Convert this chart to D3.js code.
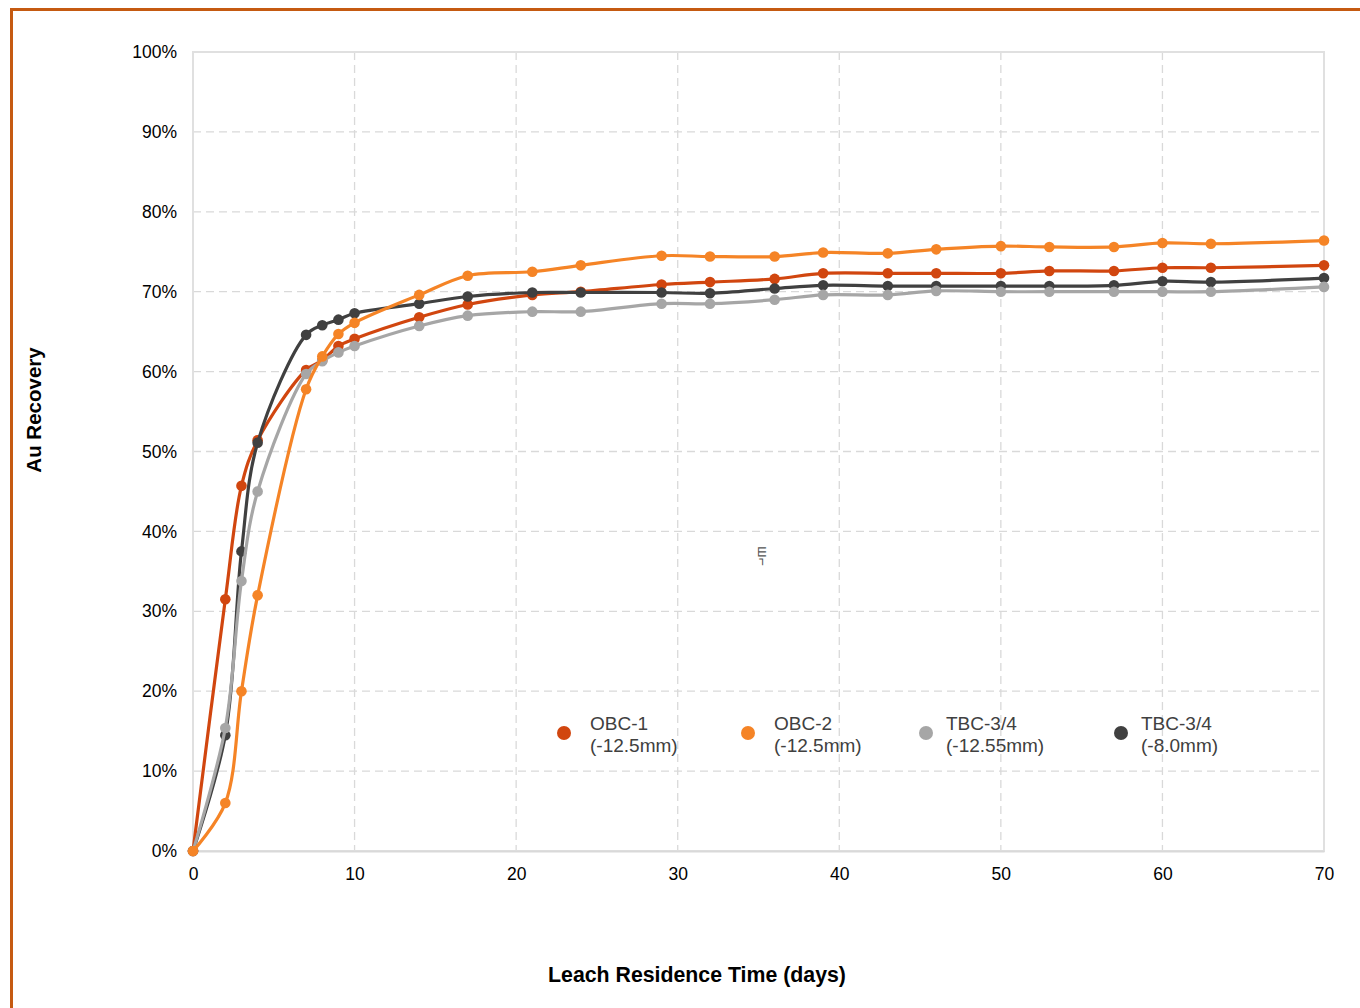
<!DOCTYPE html>
<html>
<head>
<meta charset="utf-8">
<script src="https://cdn.jsdelivr.net/npm/d3@7"></script>
<style>
  body { margin: 0; background: #fff; }
  svg { display: block; font-family: "Liberation Sans", Arial, sans-serif; }
</style>
</head>
<body>
<div id="plot"></div>
<script>
// Data
var days = [0, 2, 3, 4, 7, 8, 9, 10, 14, 17, 21, 24, 29, 32, 36, 39, 43, 46, 50, 53, 57, 60, 63, 70];
var obc1 = [0, 31.5, 45.7, 51.4, 60.2, 61.4, 63.2, 64.1, 66.8, 68.4, 69.6, 70.0, 70.9, 71.2, 71.6, 72.3, 72.3, 72.3, 72.3, 72.6, 72.6, 73.0, 73.0, 73.3];
var obc2 = [0, 6.0, 20.0, 32.0, 57.8, 61.9, 64.7, 66.1, 69.6, 72.0, 72.5, 73.3, 74.5, 74.4, 74.4, 74.9, 74.8, 75.3, 75.7, 75.6, 75.6, 76.1, 76.0, 76.4];
var tbc1255 = [0, 15.4, 33.8, 45.0, 59.7, 61.3, 62.4, 63.2, 65.7, 67.0, 67.5, 67.5, 68.5, 68.5, 69.0, 69.6, 69.6, 70.1, 70.0, 70.0, 70.0, 70.0, 70.0, 70.6];
var tbc80 = [0, 14.5, 37.5, 51.1, 64.6, 65.8, 66.5, 67.3, 68.5, 69.4, 69.9, 69.9, 69.9, 69.8, 70.4, 70.8, 70.7, 70.7, 70.7, 70.7, 70.8, 71.3, 71.2, 71.7];

var xTicks = [0, 10, 20, 30, 40, 50, 60, 70];
var yTicks = [0, 10, 20, 30, 40, 50, 60, 70, 80, 90, 100];

var series = [
  { name: ["OBC-1", "(-12.5mm)"], values: obc1, color: "#D1460F" },
  { name: ["OBC-2", "(-12.5mm)"], values: obc2, color: "#F58426" },
  { name: ["TBC-3/4", "(-12.55mm)"], values: tbc1255, color: "#A6A6A6" },
  { name: ["TBC-3/4", "(-8.0mm)"], values: tbc80, color: "#404040" }
];
// draw order (last on top)
var drawOrder = [0, 3, 2, 1];

var W = 1360, H = 1008;
var margin = { left: 193, right: 36, top: 52, bottom: 157 };
var width = W - margin.left - margin.right,
    height = H - margin.top - margin.bottom;

var svg = d3.select("div#plot")
    .append("svg")
    .attr("width", W)
    .attr("height", H);

// outer frame
svg.append("rect")
    .attr("x", 11.5).attr("y", 9.5)
    .attr("width", 1400).attr("height", 1100)
    .attr("fill", "none")
    .attr("stroke", "#C55A11")
    .attr("stroke-width", 3);

var g = svg.append("g")
    .attr("transform", "translate(" + margin.left + "," + margin.top + ")");

var x = d3.scaleLinear().domain([0, 70]).range([0, width]);
var y = d3.scaleLinear().domain([0, 100]).range([height, 0]);

// gridlines
g.selectAll(".hgrid")
    .data(yTicks.slice(1, -1))
    .enter().append("line")
    .attr("x1", 0).attr("x2", width)
    .attr("y1", function (d) { return y(d); })
    .attr("y2", function (d) { return y(d); })
    .attr("stroke", "#D9D9D9")
    .attr("stroke-width", 1.3)
    .attr("stroke-dasharray", "8,5");

g.selectAll(".vgrid")
    .data(xTicks.slice(1, -1))
    .enter().append("line")
    .attr("y1", 0).attr("y2", height)
    .attr("x1", function (d) { return x(d); })
    .attr("x2", function (d) { return x(d); })
    .attr("stroke", "#D9D9D9")
    .attr("stroke-width", 1.3)
    .attr("stroke-dasharray", "8,5");

// plot border
g.append("rect")
    .attr("x", 0).attr("y", 0)
    .attr("width", width).attr("height", height)
    .attr("fill", "none")
    .attr("stroke", "#E0E0E0")
    .attr("stroke-width", 2);

// axes
var xAxis = d3.axisBottom(x).tickValues(xTicks).tickSize(0).tickPadding(17);
var yAxis = d3.axisLeft(y).tickValues(yTicks).tickSize(0).tickPadding(16)
    .tickFormat(function (d) { return d + "%"; });

var gx = g.append("g")
    .attr("transform", "translate(0," + height + ")")
    .call(xAxis);
gx.select(".domain").attr("stroke", "#D9D9D9").attr("stroke-width", 2);
gx.selectAll("text").attr("font-size", 17.5).attr("fill", "#000")
    .attr("font-family", "Liberation Sans, Arial, sans-serif");

var gy = g.append("g").call(yAxis);
gy.select(".domain").remove();
gy.selectAll("text").attr("font-size", 17.5).attr("fill", "#000")
    .attr("font-family", "Liberation Sans, Arial, sans-serif");

// lines
var line = d3.line()
    .x(function (d) { return x(d[0]); })
    .y(function (d) { return y(d[1]); })
    .curve(d3.curveCatmullRom.alpha(0.5));

drawOrder.forEach(function (i) {
  var s = series[i];
  var pts = days.map(function (d, k) { return [d, s.values[k]]; });
  var sg = g.append("g");
  sg.append("path")
      .datum(pts)
      .attr("d", line)
      .attr("fill", "none")
      .attr("stroke", s.color)
      .attr("stroke-width", 3.2);
  sg.selectAll("circle")
      .data(pts)
      .enter().append("circle")
      .attr("cx", function (d) { return x(d[0]); })
      .attr("cy", function (d) { return y(d[1]); })
      .attr("r", 5.3)
      .attr("fill", s.color);
});

// legend
var legendX = [564, 748, 926, 1121];
var legendGap = [26, 26, 20, 20];
series.forEach(function (s, i) {
  var lg = svg.append("g").attr("transform", "translate(" + legendX[i] + ",733)");
  lg.append("circle").attr("r", 7).attr("fill", s.color);
  var t = lg.append("text")
      .attr("font-size", 19)
      .attr("fill", "#404040");
  t.append("tspan").attr("x", legendGap[i]).attr("y", -3).text(s.name[0]);
  t.append("tspan").attr("x", legendGap[i]).attr("y", 19).text(s.name[1]);
});

// stray glyph in the middle of the plot
svg.append("text")
    .attr("transform", "translate(758,556) rotate(90)")
    .attr("font-size", 14)
    .attr("fill", "#555")
    .attr("text-anchor", "middle")
    .text("ш⌐");

// axis titles
svg.append("text")
    .attr("transform", "translate(41,410) rotate(-90)")
    .attr("text-anchor", "middle")
    .attr("font-size", 20.5)
    .attr("font-weight", "bold")
    .text("Au Recovery");

svg.append("text")
    .attr("x", 697).attr("y", 982)
    .attr("text-anchor", "middle")
    .attr("font-size", 21.3)
    .attr("font-weight", "bold")
    .text("Leach Residence Time (days)");
</script>
</body>
</html>
